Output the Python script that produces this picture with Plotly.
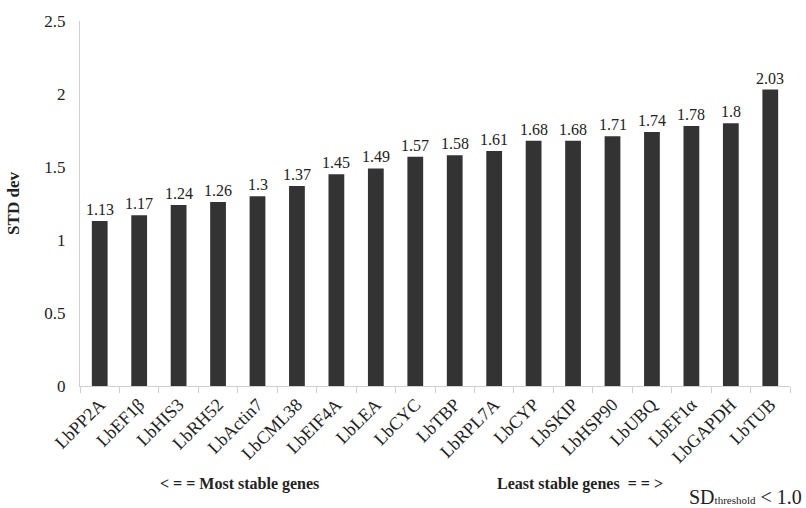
import plotly.graph_objects as go

genes = ["LbPP2A", "LbEF1β", "LbHIS3", "LbRH52", "LbActin7", "LbCML38", "LbEIF4A",
         "LbLEA", "LbCYC", "LbTBP", "LbRPL7A", "LbCYP", "LbSKIP", "LbHSP90",
         "LbUBQ", "LbEF1α", "LbGAPDH", "LbTUB"]
std_dev = [1.13, 1.17, 1.24, 1.26, 1.3, 1.37, 1.45, 1.49, 1.57, 1.58, 1.61,
           1.68, 1.68, 1.71, 1.74, 1.78, 1.8, 2.03]
y_ticks = [0, 0.5, 1, 1.5, 2, 2.5]
y_tick_text = ["0", "0.5", "1", "1.5", "2", "2.5"]

FONT = "Liberation Serif"
INK = "#222222"

fig = go.Figure(go.Bar(
    x=genes, y=std_dev,
    marker=dict(color="#333333", line=dict(width=0)),
    cliponaxis=False,
))

# value labels above each bar
for g, v in zip(genes, std_dev):
    fig.add_annotation(
        x=g, y=v, xref="x", yref="y", yanchor="bottom", xanchor="center",
        yshift=1, text=f"{v:g}", showarrow=False,
        font=dict(family=FONT, size=16, color=INK),
    )

fig.update_layout(
    width=806, height=508,
    margin=dict(l=77, r=16, t=20, b=122),
    paper_bgcolor="white", plot_bgcolor="white",
    bargap=0.6,
    showlegend=False,
    font=dict(family=FONT, color=INK),
)

fig.update_xaxes(
    showline=True, linecolor="#d0d0d0", linewidth=1,
    ticks="outside", tickson="boundaries", ticklen=6, tickcolor="#d0d0d0",
    tickangle=-45, tickfont=dict(family=FONT, size=18, color=INK),
    showgrid=False,
)
fig.update_yaxes(
    range=[0, 2.5], tickvals=y_ticks, ticktext=y_tick_text,
    showline=True, linecolor="#d0d0d0", linewidth=1,
    ticks="", showgrid=False, zeroline=False, ticklabelstandoff=10,
    tickfont=dict(family=FONT, size=17, color=INK),
    title=dict(text="<b>STD dev</b>", font=dict(family=FONT, size=17, color=INK), standoff=20),
)

fig.add_annotation(
    x=0.224, y=-0.268, xref="paper", yref="paper", xanchor="center", yanchor="middle",
    text="<b>< = = Most stable genes</b>", showarrow=False,
    font=dict(family=FONT, size=16, color=INK),
)
fig.add_annotation(
    x=0.704, y=-0.268, xref="paper", yref="paper", xanchor="center", yanchor="middle",
    text="<b>Least stable genes  = = ></b>", showarrow=False,
    font=dict(family=FONT, size=16, color=INK),
)
fig.add_annotation(
    x=1.02, y=-0.305, xref="paper", yref="paper", xanchor="right", yanchor="middle",
    text="SD<span style='font-size:11px'>threshold</span> < 1.0", showarrow=False,
    font=dict(family=FONT, size=20, color=INK),
)

fig.write_html("out.html")
